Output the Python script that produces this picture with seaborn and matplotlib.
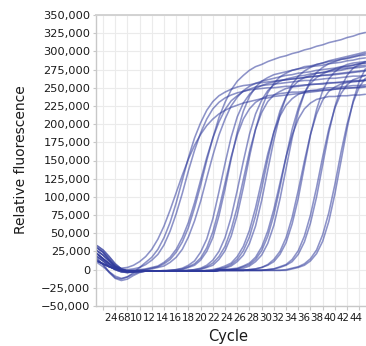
import matplotlib
matplotlib.use("Agg")
import matplotlib.pyplot as plt
import matplotlib.transforms as mtransforms
from matplotlib.ticker import FuncFormatter
import pandas as pd
import seaborn as sns

# ---- data (relative fluorescence, thousands) read per cycle ----
cycles = list(range(1, 46))
curve_01 = [22,15,9,4,2,3,6,11,18,28, 42,60,82,106,130,152,171,186,198,207, 214,219,223,226,229,231,233,235,236,238, 239,240,241,242,243,244,245,246,247,248, 249,250,250,251,252]
curve_02 = [15,7,-3,-11,-13,-10,-4,3,10,17, 28,44,65,92,123,154,181,202,219,231, 239,244,248,251,253,254,256,257,258,259, 260,261,262,263,264,265,266,267,267,268, 269,270,271,272,273]
curve_03 = [30,24,15,6,1,0,1,3,7,13, 21,34,53,77,105,136,164,188,207,221, 230,236,240,243,245,247,248,249,250,250, 251,252,252,253,254,254,255,255,256,257, 257,258,259,259,260]
curve_04 = [12,8,4,1,-1,-1,-1,0,1,3, 5,10,17,28,44,65,92,123,154,181, 203,220,232,239,245,248,251,253,254,255, 256,257,258,259,260,260,261,262,263,263, 264,265,266,266,267]
curve_05 = [26,20,12,4,-1,-3,-2,-1,0,2, 4,8,14,24,38,58,85,116,150,181, 209,230,247,259,267,274,279,282,286,289, 292,294,297,299,302,304,307,309,312,314, 316,319,321,324,326]
curve_06 = [22,15,8,2,-1,-2,-1,-1,0,1, 3,5,10,17,28,45,67,94,126,157, 185,207,225,237,246,252,256,259,261,263, 265,267,268,270,271,272,274,275,276,277, 279,280,281,283,284]
curve_07 = [18,12,5,0,-3,-4,-3,-2,-2,-2, -2,-1,-1,0,2,6,12,24,42,70, 107,146,182,210,229,241,249,253,256,258, 260,261,262,263,264,265,266,267,268,269, 270,271,272,273,274]
curve_08 = [33,27,18,8,1,-2,-2,-2,-2,-2, -2,-2,-1,0,1,4,8,16,30,52, 83,119,155,185,207,221,230,235,239,240, 242,243,244,244,245,246,246,247,247,248, 249,249,250,250,251]
curve_09 = [12,8,4,1,-1,-2,-2,-2,-2,-2, -2,-2,-1,-1,0,3,6,13,25,44, 74,111,152,189,218,238,251,259,264,268, 270,272,274,276,277,279,280,281,283,284, 285,287,288,290,291]
curve_10 = [10,4,-3,-9,-12,-10,-6,-3,-2,-2, -2,-2,-2,-2,-1,-1,0,2,6,13, 25,44,72,109,149,186,214,233,246,254, 259,262,264,266,267,269,270,271,272,273, 274,276,277,278,279]
curve_11 = [22,15,8,2,-1,-2,-2,-2,-2,-2, -2,-2,-2,-2,-2,-1,0,1,4,9, 18,32,55,86,124,162,193,216,231,240, 245,249,251,252,253,255,255,256,257,257, 258,259,260,260,261]
curve_12 = [26,20,12,4,-1,-3,-3,-2,-2,-2, -2,-2,-2,-2,-2,-1,-1,0,3,6, 14,26,46,75,113,155,193,222,243,256, 265,270,274,276,279,280,282,284,286,287, 289,290,292,294,295]
curve_13 = [30,24,14,5,0,-2,-3,-3,-2,-2, -2,-2,-2,-2,-2,-2,-2,-2,-1,0, 2,5,9,18,32,54,85,122,159,189, 211,226,235,241,244,246,247,249,250,250, 251,252,253,253,254]
curve_14 = [18,12,5,0,-3,-4,-3,-2,-2,-2, -2,-2,-2,-2,-2,-2,-2,-2,-1,-1, 1,3,7,14,26,45,74,111,152,189, 218,238,251,259,264,267,270,271,273,275, 276,277,278,280,281]
curve_15 = [12,8,4,1,-1,-2,-2,-2,-2,-2, -2,-2,-2,-2,-2,-2,-2,-2,-2,-1, 1,2,5,11,20,36,60,95,137,178, 213,237,255,266,273,278,282,284,287,289, 291,293,295,297,299]
curve_16 = [22,15,8,2,-1,-2,-2,-2,-2,-2, -2,-2,-2,-2,-2,-2,-2,-2,-2,-2, -1,0,1,2,5,9,17,31,53,83, 119,155,185,207,221,229,234,236,238,238, 239,239,240,240,241]
curve_17 = [33,27,18,8,1,-2,-2,-2,-2,-2, -2,-2,-2,-2,-2,-2,-2,-2,-2,-2, -1,0,0,1,4,7,14,26,46,75, 113,155,193,222,243,256,264,269,273,276, 278,279,281,283,284]
curve_18 = [15,7,-4,-12,-15,-13,-8,-4,-2,-2, -2,-2,-2,-2,-2,-2,-2,-2,-2,-2, -1,-1,0,1,2,5,11,20,36,61, 97,139,181,217,242,260,271,278,283,286, 289,291,293,295,297]
curve_19 = [26,20,12,4,-1,-3,-3,-2,-2,-2, -2,-2,-2,-2,-2,-2,-2,-2,-2,-2, -1,-1,-1,-1,-1,0,1,3,7,14, 25,44,72,109,149,186,214,233,245,251, 255,257,258,259,260]
curve_20 = [12,8,4,1,-1,-2,-2,-2,-2,-2, -2,-2,-2,-2,-2,-2,-2,-2,-2,-2, -1,-1,-1,-1,-1,0,1,3,6,11, 21,37,63,98,142,185,220,246,262,272, 278,282,284,285,286]
curve_21 = [18,12,5,0,-3,-4,-3,-2,-2,-2, -2,-2,-2,-2,-2,-2,-2,-2,-2,-2, -1,-1,-1,-1,-1,-1,-1,-1,0,1, 4,7,14,26,46,75,113,155,193,222, 242,254,261,264,267]
curve_22 = [22,15,8,2,-1,-2,-2,-2,-2,-2, -2,-2,-2,-2,-2,-2,-2,-2,-2,-2, -1,-1,-1,-1,-1,-1,-1,-1,0,1, 3,6,11,21,38,64,100,144,188,224, 250,267,277,282,286]
curve_23 = [30,24,14,5,0,-2,-3,-3,-2,-2, -2,-2,-2,-2,-2,-2,-2,-2,-2,-2, -1,-1,-1,-1,-1,-1,-1,-1,-1,-1, -1,0,2,4,8,15,27,48,78,117, 161,200,230,251,263]
curve_24 = [12,8,4,1,-1,-2,-2,-2,-2,-2, -2,-2,-2,-2,-2,-2,-2,-2,-2,-2, -1,-1,-1,-1,-1,-1,-1,-1,-1,-1, -1,-1,1,3,6,12,22,39,66,104, 149,194,232,259,276]

curves = [curve_01, curve_02, curve_03, curve_04, curve_05, curve_06, curve_07, curve_08,
          curve_09, curve_10, curve_11, curve_12, curve_13, curve_14, curve_15, curve_16,
          curve_17, curve_18, curve_19, curve_20, curve_21, curve_22, curve_23, curve_24]

x_tick_values = list(range(2, 45, 2))
x_tick_labels = [str(v) for v in x_tick_values]
y_tick_values = list(range(-50000, 350001, 25000))

rows = []
for i, vals in enumerate(curves):
    for c, v in zip(cycles, vals):
        rows.append({"well": i, "cycle": c, "rfu": v * 1000})
df = pd.DataFrame(rows)

# ---- styling ----
sns.set_style("white")
plt.rcParams["font.family"] = ["DejaVu Sans"]

W, H = 366, 346
fig = plt.figure(figsize=(W / 100, H / 100), dpi=100)
L, R, T, B = 96, 366, 15, 306
ax = fig.add_axes([L / W, 1 - B / H, (R - L) / W, (B - T) / H])

LINE = "#2f3a9c"
sns.lineplot(data=df, x="cycle", y="rfu", units="well", estimator=None,
             color=LINE, alpha=0.55, linewidth=1.15, ax=ax, legend=False)

ax.set_xlim(0.85, 45.1)
ax.set_ylim(-50000, 350000)
ax.set_yticks(y_tick_values)
ax.set_xticks(x_tick_values)
ax.yaxis.set_major_formatter(FuncFormatter(lambda v, p: f"{v:,.0f}".replace("-", "\u2212")))
ax.grid(True, color="#ebebeb", linewidth=0.8)
ax.set_axisbelow(True)
ax.set_xlabel("")
ax.set_ylabel("")

for side in ["left", "bottom"]:
    ax.spines[side].set_color("#c8c8c8")
    ax.spines[side].set_linewidth(1.0)
ax.spines["top"].set_color("#d2d2d2")
ax.spines["top"].set_linewidth(1.4)
ax.spines["right"].set_visible(False)

ax.tick_params(axis="y", length=2, width=0.8, color="#c8c8c8", pad=2,
               labelsize=8.2, labelcolor="#1a1a1a", left=True)
ax.tick_params(axis="x", length=3, width=0.8, color="#c8c8c8",
               labelbottom=False, bottom=True, direction="out")

# x tick labels laid out as a continuous run of text
trans = mtransforms.blended_transform_factory(ax.transData, ax.transAxes)
prev = ax.text(2.16, -0.041, x_tick_labels[0], transform=trans, ha="left",
               va="center", fontsize=7.4, color="#1a1a1a", clip_on=False)
for lbl in x_tick_labels[1:]:
    prev = ax.annotate(lbl, xy=(1, 0.5), xycoords=prev, ha="left", va="center",
                       fontsize=7.4, color="#1a1a1a", annotation_clip=False)

fig.text(21 / W, 1 - 160 / H, "Relative fluorescence", rotation=90,
         ha="center", va="center", fontsize=10, color="#1a1a1a")
fig.text(228 / W, 1 - 337 / H, "Cycle", ha="center", va="center",
         fontsize=10.5, color="#1a1a1a")

fig.savefig("out.png", dpi=100)
